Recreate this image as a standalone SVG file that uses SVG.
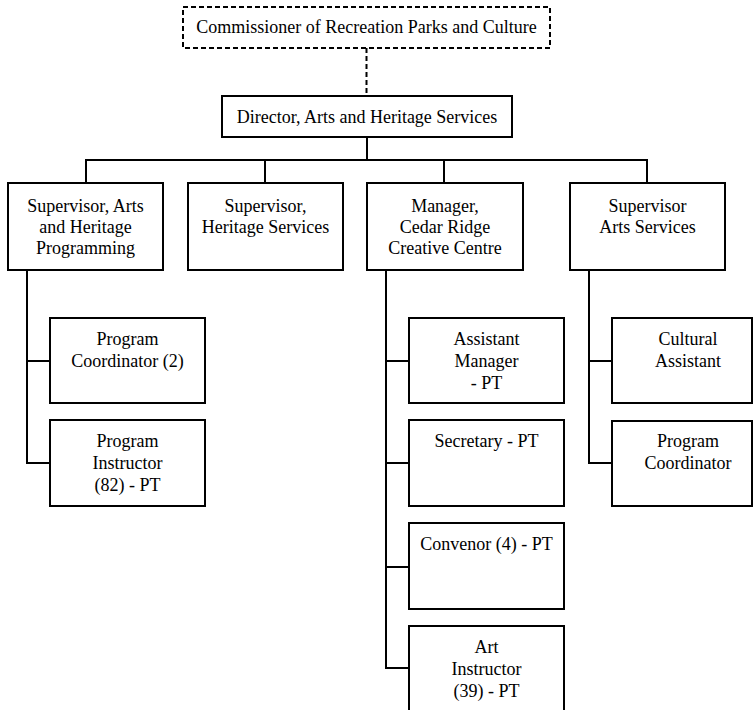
<svg xmlns="http://www.w3.org/2000/svg" width="754" height="710" viewBox="0 0 754 710">
<style>
.b{fill:#fff;stroke:#000;stroke-width:2}
.d{fill:#fff;stroke:#000;stroke-width:2;stroke-dasharray:5,3}
text{font-family:'Liberation Serif','Times New Roman',serif;font-size:18px;fill:#000;text-anchor:middle}
.c{fill:none;stroke:#000;stroke-width:2}
</style>
<rect width="754" height="710" fill="#fff"/>
<g id="connectors">
<line class="c" x1="366.5" y1="48" x2="366.5" y2="96" stroke-dasharray="5,3"/>
<path class="c" d="M367,137V160M86,183V160H647V183M265,160V183M444,160V183"/>
<path class="c" d="M27,270V463H50M27,361H50"/>
<path class="c" d="M386,270V668H409M386,361H409M386,463H409M386,567H409"/>
<path class="c" d="M589,270V463H612M589,361H612"/>
</g>
<g id="commissioner"><rect class="d" x="183" y="7" width="367" height="41"/><text x="366.5" y="33">Commissioner of Recreation Parks and Culture</text></g>
<g id="director"><rect class="b" x="222" y="96" width="290" height="41"/><text x="367" y="123">Director, Arts and Heritage Services</text></g>
<g id="sup-arts-heritage"><rect class="b" x="8" y="183" width="155" height="87"/><text x="85.5" y="212">Supervisor, Arts</text><text x="85.5" y="233">and Heritage</text><text x="85.5" y="254">Programming</text></g>
<g id="sup-heritage"><rect class="b" x="188" y="183" width="155" height="87"/><text x="265.5" y="212">Supervisor,</text><text x="265.5" y="233">Heritage Services</text></g>
<g id="manager"><rect class="b" x="367" y="183" width="156" height="87"/><text x="445" y="212">Manager,</text><text x="445" y="233">Cedar Ridge</text><text x="445" y="254">Creative Centre</text></g>
<g id="sup-arts"><rect class="b" x="570" y="183" width="155" height="87"/><text x="647.5" y="212">Supervisor</text><text x="647.5" y="233">Arts Services</text></g>
<g id="prog-coord-2"><rect class="b" x="50" y="318" width="155" height="85"/><text x="127.5" y="345">Program</text><text x="127.5" y="367">Coordinator (2)</text></g>
<g id="prog-instr"><rect class="b" x="50" y="420" width="155" height="86"/><text x="127.5" y="447">Program</text><text x="127.5" y="469">Instructor</text><text x="127.5" y="491">(82) - PT</text></g>
<g id="asst-mgr"><rect class="b" x="409" y="318" width="155" height="85"/><text x="486.5" y="345">Assistant</text><text x="486.5" y="367">Manager</text><text x="486.5" y="389">- PT</text></g>
<g id="secretary"><rect class="b" x="409" y="420" width="155" height="86"/><text x="486.5" y="447">Secretary - PT</text></g>
<g id="convenor"><rect class="b" x="409" y="523" width="155" height="86"/><text x="486.5" y="550">Convenor (4) - PT</text></g>
<g id="art-instr"><rect class="b" x="409" y="626" width="155" height="90"/><text x="486.5" y="653">Art</text><text x="486.5" y="675">Instructor</text><text x="486.5" y="697">(39) - PT</text></g>
<g id="cultural-asst"><rect class="b" x="612" y="318" width="140" height="85"/><text x="688" y="345">Cultural</text><text x="688" y="367">Assistant</text></g>
<g id="prog-coord"><rect class="b" x="612" y="421" width="140" height="85"/><text x="688" y="447">Program</text><text x="688" y="469">Coordinator</text></g>
</svg>
